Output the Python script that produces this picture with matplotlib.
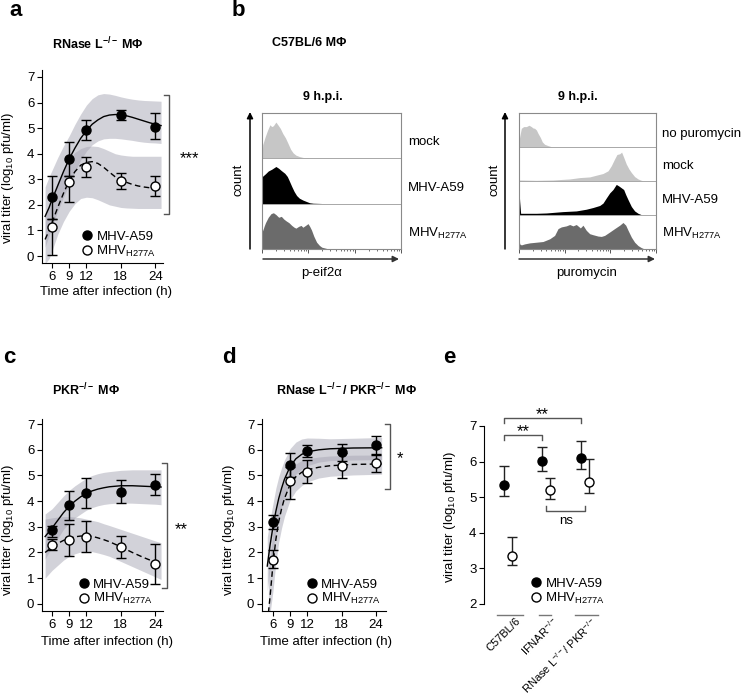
import numpy as np
import matplotlib
matplotlib.use('AGG')
import matplotlib.pyplot as plt
from matplotlib.patches import FancyArrowPatch

plt.rcParams['font.family'] = ['Liberation Sans', 'DejaVu Sans']
plt.rcParams['mathtext.fontset'] = 'custom'
plt.rcParams['mathtext.rm'] = 'Liberation Sans'
plt.rcParams['mathtext.it'] = 'Liberation Sans:italic'
plt.rcParams['mathtext.bf'] = 'Liberation Sans:bold'
plt.rcParams['font.size'] = 9.5
plt.rcParams['axes.linewidth'] = 0.8

# ---- data -------------------------------------------------------------
hours = [6, 9, 12, 18, 24]
lbl_wt = 'MHV-A59'
lbl_mut = r'MHV$_{\mathregular{H277A}}$'

# panel a: RNase L-/- macrophages
a_wt = [2.29, 3.79, 4.93, 5.52, 5.06]
a_wt_lo = [1.45, 3.14, 4.52, 5.32, 4.56]
a_wt_hi = [3.14, 4.47, 5.32, 5.71, 5.60]
a_mut = [1.12, 2.91, 3.49, 2.93, 2.74]
a_mut_lo = [0.04, 2.13, 3.10, 2.61, 2.36]
a_mut_hi = [1.45, 3.14, 3.86, 3.26, 3.14]
a_fit_t = [4.8, 5.5, 6, 7, 8, 9, 10, 11, 12, 13, 14, 15, 16, 17, 18, 19, 20, 21, 22, 23, 24, 25]
a_fit_wt = [1.55, 1.9, 2.2, 2.75, 3.3, 3.8, 4.22, 4.6, 4.9, 5.15, 5.32, 5.45, 5.51, 5.53, 5.52, 5.48,
            5.42, 5.35, 5.28, 5.21, 5.15, 5.1]
a_band_wt_hi = [2.7, 3.1, 3.35, 3.85, 4.3, 4.7, 5.15, 5.55, 5.9, 6.15, 6.3, 6.35, 6.33, 6.28, 6.22, 6.17,
                6.13, 6.1, 6.08, 6.07, 6.06, 6.05]
a_band_wt_lo = [0.35, 0.8, 1.15, 1.75, 2.3, 2.8, 3.3, 3.75, 4.1, 4.35, 4.5, 4.58, 4.6, 4.6, 4.58, 4.55,
                4.52, 4.48, 4.45, 4.43, 4.42, 4.4]
a_fit_mut = [0.65, 1.0, 1.3, 1.9, 2.45, 2.95, 3.3, 3.55, 3.66, 3.69, 3.62, 3.47, 3.28, 3.1, 2.97, 2.88,
             2.8, 2.74, 2.7, 2.67, 2.65, 2.63]
a_band_mut_hi = [1.6, 2.0, 2.35, 2.9, 3.4, 3.8, 4.05, 4.2, 4.28, 4.3, 4.28, 4.2, 4.1, 4.0, 3.95, 3.92,
                 3.9, 3.9, 3.9, 3.9, 3.9, 3.9]
a_band_mut_lo = [-0.3, -0.1, 0.2, 0.85, 1.35, 1.75, 2.05, 2.25, 2.3, 2.28, 2.2, 2.1, 2.0, 1.95, 1.9,
                 1.88, 1.87, 1.86, 1.86, 1.86, 1.86, 1.86]

# panel c: PKR-/- macrophages
c_wt = [2.86, 3.86, 4.33, 4.36, 4.64]
c_wt_lo = [2.60, 3.28, 3.72, 3.93, 4.25]
c_wt_hi = [3.02, 4.38, 4.92, 4.81, 5.06]
c_mut = [2.30, 2.47, 2.60, 2.22, 1.54]
c_mut_lo = [2.08, 1.87, 2.00, 1.80, 0.76]
c_mut_hi = [2.52, 3.12, 3.23, 2.63, 2.33]
c_fit_t = [4.8, 6, 7, 8, 9, 10, 11, 12, 13, 14, 15, 16, 18, 20, 22, 24, 25]
c_fit_wt = [2.62, 2.95, 3.25, 3.55, 3.8, 4.0, 4.17, 4.3, 4.4, 4.47, 4.52, 4.56, 4.6, 4.6, 4.58, 4.56, 4.55]
c_band_wt_hi = [3.5, 3.7, 3.95, 4.2, 4.42, 4.6, 4.75, 4.9, 5.0, 5.07, 5.12, 5.15, 5.2, 5.22, 5.22, 5.22, 5.22]
c_band_wt_lo = [1.75, 2.2, 2.55, 2.9, 3.15, 3.35, 3.5, 3.65, 3.75, 3.82, 3.87, 3.9, 3.93, 3.92, 3.9, 3.88, 3.86]
c_fit_mut = [2.0, 2.2, 2.35, 2.47, 2.55, 2.61, 2.64, 2.65, 2.63, 2.57, 2.5, 2.42, 2.22, 2.0, 1.8, 1.62, 1.55]
c_band_mut_hi = [3.3, 3.35, 3.38, 3.4, 3.4, 3.38, 3.35, 3.3, 3.25, 3.2, 3.12, 3.05, 2.9, 2.75, 2.6, 2.45, 2.38]
c_band_mut_lo = [1.0, 1.3, 1.5, 1.7, 1.85, 1.95, 2.02, 2.05, 2.03, 1.98, 1.92, 1.85, 1.65, 1.45, 1.25, 1.05, 0.95]

# panel d: RNase L-/- / PKR-/- macrophages
d_wt = [3.20, 5.40, 5.95, 5.90, 6.19]
d_wt_lo = [2.91, 4.94, 5.73, 5.56, 5.79]
d_wt_hi = [3.46, 5.89, 6.19, 6.22, 6.54]
d_mut = [1.71, 4.77, 5.14, 5.38, 5.47]
d_mut_lo = [1.38, 4.09, 4.70, 4.90, 5.14]
d_mut_hi = [2.08, 5.33, 5.60, 5.89, 5.83]
d_fit_t = [5.0, 5.5, 6, 6.5, 7, 7.5, 8, 9, 10, 11, 12, 14, 16, 20, 25]
d_fit_wt = [1.47, 2.3, 3.0, 3.6, 4.1, 4.5, 4.85, 5.35, 5.65, 5.82, 5.92, 6.0, 6.04, 6.07, 6.08]
d_band_wt_hi = [2.6, 3.3, 3.9, 4.5, 4.95, 5.3, 5.6, 6.05, 6.3, 6.42, 6.46, 6.45, 6.43, 6.45, 6.48]
d_band_wt_lo = [0.5, 1.4, 2.1, 2.75, 3.3, 3.75, 4.1, 4.7, 5.05, 5.25, 5.38, 5.52, 5.58, 5.6, 5.62]
d_fit_t2 = [5.2, 5.5, 6, 6.5, 7, 7.5, 8, 9, 10, 11, 12, 14, 16, 20, 25]
d_fit_mut = [-0.35, 0.3, 1.55, 2.5, 3.2, 3.7, 4.1, 4.65, 4.95, 5.12, 5.22, 5.32, 5.38, 5.43, 5.45]
d_band_mut_hi = [1.2, 1.8, 2.8, 3.55, 4.1, 4.5, 4.8, 5.2, 5.45, 5.58, 5.65, 5.72, 5.76, 5.79, 5.8]
d_band_mut_lo = [-0.35, -0.35, 0.5, 1.6, 2.4, 2.95, 3.4, 4.05, 4.4, 4.6, 4.75, 4.9, 4.97, 5.02, 5.05]

# panel e: titer at one time point per genotype
e_groups = ['C57BL/6', r'IFNAR$^{\mathregular{-/-}}$',
            r'RNase L$^{\mathregular{-/-}}$/ PKR$^{\mathregular{-/-}}$']
e_wt = [5.34, 6.03, 6.09]
e_wt_lo = [5.04, 5.74, 5.78]
e_wt_hi = [5.88, 6.40, 6.59]
e_mut = [3.35, 5.20, 5.43]
e_mut_lo = [3.10, 4.95, 5.13]
e_mut_hi = [3.89, 5.53, 6.07]

# panel b: flow cytometry histograms (channel 0-100, height as row fraction)
peif_labels = ['mock', 'MHV-A59', r'MHV$_{\mathregular{H277A}}$']
peif_mock_x = [0, 0.5, 2, 4, 5.7, 7, 8.2, 10, 11.4, 13.2, 14.9, 16.9, 18.7, 20.6, 22.4, 24.4, 26.9,
               29.4, 33.1, 36.8]
peif_mock_h = [0, 0.3, 0.45, 0.62, 0.74, 0.7, 0.72, 0.8, 0.74, 0.66, 0.55, 0.45, 0.33, 0.2, 0.12,
               0.07, 0.04, 0.02, 0.01, 0]
peif_wt_x = [0, 0.25, 1, 2.5, 4.5, 7, 9, 10, 12, 13.9, 16.4, 18.2, 19.4, 21.4, 23.1, 24.9, 26.9,
             29.4, 31.8, 34.3, 36.8, 46.8]
peif_wt_h = [0.95, 0.6, 0.62, 0.66, 0.72, 0.76, 0.8, 0.82, 0.78, 0.73, 0.67, 0.6, 0.52, 0.38, 0.27,
             0.18, 0.12, 0.08, 0.05, 0.02, 0.01, 0]
peif_mut_x = [0, 0.5, 1.5, 2.5, 4.5, 6.5, 8.2, 10, 12, 13.9, 15.7, 17.4, 19.4, 21.4, 23.1, 24.4, 26.4,
              28.1, 29.4, 31.3, 33.1, 34.3, 35.6, 37.3, 39.3, 41.3, 43, 45.5, 48]
peif_mut_h = [0.6, 0.4, 0.5, 0.58, 0.7, 0.78, 0.8, 0.76, 0.7, 0.72, 0.66, 0.62, 0.58, 0.52, 0.48,
              0.46, 0.5, 0.52, 0.48, 0.52, 0.56, 0.5, 0.42, 0.28, 0.15, 0.08, 0.04, 0.02, 0]

puro_labels = ['no puromycin', 'mock', 'MHV-A59', r'MHV$_{\mathregular{H277A}}$']
puro_none_x = [0, 0.5, 1.7, 3.4, 5.4, 7.3, 9, 10.2, 11.4, 12.7, 13.9, 15.6, 17, 18.7, 21.2, 23.6, 26]
puro_none_h = [0.15, 0.3, 0.55, 0.6, 0.6, 0.64, 0.6, 0.56, 0.55, 0.5, 0.4, 0.28, 0.15, 0.08, 0.04,
               0.01, 0]
puro_mock_x = [0, 12.7, 24.8, 37, 44.3, 51.6, 56.4, 61.3, 65, 67.4, 69.8, 71.5, 73.5, 74.9, 76.4,
               78.3, 80.3, 82, 84.4, 86.9, 89.3, 91.7]
puro_mock_h = [0.03, 0.02, 0.03, 0.06, 0.1, 0.12, 0.17, 0.22, 0.3, 0.45, 0.65, 0.78, 0.8, 0.85, 0.7,
               0.5, 0.35, 0.25, 0.13, 0.06, 0.02, 0]
puro_wt_x = [0, 0.5, 1.2, 12.7, 20, 32.1, 41.8, 49.1, 54, 58.9, 61.3, 63.7, 66.2, 68.6, 71, 73, 74.7,
             76.4, 77.9, 79.6, 82, 84.4, 86.9, 89.3]
puro_wt_h = [0.75, 0.4, 0.05, 0.05, 0.06, 0.1, 0.12, 0.17, 0.22, 0.28, 0.35, 0.5, 0.65, 0.75, 0.9,
             0.85, 0.8, 0.75, 0.6, 0.45, 0.25, 0.12, 0.05, 0.01]
puro_mut_x = [0, 0.5, 1.7, 4.1, 7.8, 12.7, 17.5, 22.4, 26, 28.5, 30.9, 34.5, 37, 39.4, 41.8, 44.8,
              46.7, 49.1, 51.6, 54, 57.7, 60.1, 62.5, 66.2, 69.8, 73.5, 75.9, 77.9, 79.6, 82, 84.4,
              86.9, 89.3, 91.7]
puro_mut_h = [0.35, 0.15, 0.12, 0.15, 0.18, 0.2, 0.22, 0.3, 0.4, 0.6, 0.65, 0.68, 0.72, 0.68, 0.72,
              0.62, 0.7, 0.55, 0.45, 0.42, 0.38, 0.37, 0.4, 0.5, 0.6, 0.7, 0.78, 0.7, 0.55, 0.35, 0.2,
              0.1, 0.04, 0]

LIGHT = '#c6c6c6'
DARK = '#6b6b6b'
BAND = '#a7a6b4'

# ---- layout helpers (pixel coordinates, origin top-left) ---------------
W, H = 741, 694
fig = plt.figure(figsize=(W / 100, H / 100), dpi=100)


def box(l, t, r, b):
    return [l / W, 1 - b / H, (r - l) / W, (b - t) / H]


def ftext(x, y, s, **kw):
    kw.setdefault('ha', 'center')
    kw.setdefault('va', 'center')
    fig.text(x / W, 1 - y / H, s, **kw)


def arrow(x0, y0, x1, y1, color='k'):
    fig.add_artist(FancyArrowPatch((x0 / W, 1 - y0 / H), (x1 / W, 1 - y1 / H),
                                   transform=fig.transFigure, arrowstyle='-|>',
                                   mutation_scale=9, lw=1.1, color=color,
                                   shrinkA=0, shrinkB=0))


def timecourse(ax, t, m1, lo1, hi1, m2, lo2, hi2, ft1, f1, u1, l1, ft2, f2, u2, l2):
    m1, lo1, hi1 = np.array(m1), np.array(lo1), np.array(hi1)
    m2, lo2, hi2 = np.array(m2), np.array(lo2), np.array(hi2)
    ax.fill_between(ft1, l1, u1, color=BAND, alpha=0.5, lw=0, zorder=1)
    ax.fill_between(ft2, l2, u2, color=BAND, alpha=0.5, lw=0, zorder=1)
    ax.plot(ft1, f1, '-', color='k', lw=1, zorder=2)
    ax.plot(ft2, f2, '--', color='k', lw=1, dashes=(4, 2.5), zorder=2)
    ax.errorbar(t, m1, yerr=[m1 - lo1, hi1 - m1], fmt='none', ecolor='k',
                elinewidth=1, capsize=3.5, capthick=1, zorder=3)
    ax.errorbar(t, m2, yerr=[m2 - lo2, hi2 - m2], fmt='none', ecolor='k',
                elinewidth=1, capsize=3.5, capthick=1, zorder=3)
    h1, = ax.plot(t, m1, 'o', ms=6.5, mfc='k', mec='k', mew=1, zorder=4, label=lbl_wt)
    h2, = ax.plot(t, m2, 'o', ms=6.5, mfc='w', mec='k', mew=1, zorder=4, label=lbl_mut)
    for s in ['top', 'right']:
        ax.spines[s].set_visible(False)
    ax.set_xticks(hours)
    ax.set_yticks(range(8))
    ax.tick_params(length=3.5, width=0.8, pad=2, labelsize=9.5)
    ax.set_xlabel('Time after infection (h)', fontsize=9.5)
    ax.set_ylabel(r'viral titer (log$_{\mathregular{10}}$ pfu/ml)', fontsize=9.5)
    return h1, h2


def legend(ax, handles, x, y):
    ax.legend(handles=handles, loc='lower left', bbox_to_anchor=(x, y), frameon=False,
              borderpad=0, borderaxespad=0, handlelength=0.8, handletextpad=0.3,
              labelspacing=0.05, fontsize=9.5)


def bracket(ax, x, y0, y1, tick):
    ax.plot([x - tick, x, x, x - tick], [y0, y0, y1, y1], color='#555555', lw=1, clip_on=False)


# ---- panel a ------------------------------------------------------------
ax_a = fig.add_axes(box(42, 70, 163, 263))
hs = timecourse(ax_a, hours, a_wt, a_wt_lo, a_wt_hi, a_mut, a_mut_lo, a_mut_hi,
                a_fit_t, a_fit_wt, a_band_wt_hi, a_band_wt_lo,
                a_fit_t, a_fit_mut, a_band_mut_hi, a_band_mut_lo)
ax_a.set_xlim(4.26, 25.34)
ax_a.set_ylim(-0.27, 7.27)
ax_a.yaxis.set_label_coords(-0.215, 0.44)
ax_a.xaxis.set_label_coords(0.53, -0.12)
legend(ax_a, hs, 0.33, 0.022)
bracket(ax_a, 26.4, 6.3, 1.63, 0.87)
ax_a.text(30.0, 3.8, '***', fontsize=12, ha='center', va='center')

# ---- panel c ------------------------------------------------------------
ax_c = fig.add_axes(box(42, 419, 163, 611))
hs = timecourse(ax_c, hours, c_wt, c_wt_lo, c_wt_hi, c_mut, c_mut_lo, c_mut_hi,
                c_fit_t, c_fit_wt, c_band_wt_hi, c_band_wt_lo,
                c_fit_t, c_fit_mut, c_band_mut_hi, c_band_mut_lo)
ax_c.set_xlim(4.26, 25.34)
ax_c.set_ylim(-0.28, 7.2)
ax_c.yaxis.set_label_coords(-0.215, 0.42)
ax_c.xaxis.set_label_coords(0.537, -0.13)
legend(ax_c, hs, 0.30, 0.024)
bracket(ax_c, 26.05, 5.5, 0.62, 0.87)
ax_c.text(28.5, 2.9, '**', fontsize=12, ha='center', va='center')

# ---- panel d ------------------------------------------------------------
ax_d = fig.add_axes(box(262, 419, 386, 611))
hs = timecourse(ax_d, hours, d_wt, d_wt_lo, d_wt_hi, d_mut, d_mut_lo, d_mut_hi,
                d_fit_t, d_fit_wt, d_band_wt_hi, d_band_wt_lo,
                d_fit_t2, d_fit_mut, d_band_mut_hi, d_band_mut_lo)
ax_d.set_xlim(4.08, 25.76)
ax_d.set_ylim(-0.28, 7.2)
ax_d.yaxis.set_label_coords(-0.2, 0.42)
ax_d.xaxis.set_label_coords(0.52, -0.13)
legend(ax_d, hs, 0.36, 0.024)
bracket(ax_d, 26.46, 7.0, 4.48, 0.87)
ax_d.text(28.2, 5.65, '*', fontsize=12, ha='center', va='center')

# ---- panel e ------------------------------------------------------------
ax_e = fig.add_axes(box(484, 426, 600, 604))
xe = np.arange(len(e_groups))
off = 0.105
ewt, ewl, ewh = np.array(e_wt), np.array(e_wt_lo), np.array(e_wt_hi)
emt, eml, emh = np.array(e_mut), np.array(e_mut_lo), np.array(e_mut_hi)
ax_e.errorbar(xe - off, ewt, yerr=[ewt - ewl, ewh - ewt], fmt='none', ecolor='#222222',
              elinewidth=1, capsize=3.5, capthick=1, zorder=2)
ax_e.errorbar(xe + off, emt, yerr=[emt - eml, emh - emt], fmt='none', ecolor='#222222',
              elinewidth=1, capsize=3.5, capthick=1, zorder=2)
h1, = ax_e.plot(xe - off, ewt, 'o', ms=6.5, mfc='k', mec='k', zorder=3, label=lbl_wt)
h2, = ax_e.plot(xe + off, emt, 'o', ms=6.5, mfc='w', mec='k', mew=1, zorder=3, label=lbl_mut)
ax_e.set_xlim(-0.62, 2.39)
ax_e.set_ylim(2, 7)
ax_e.set_yticks(range(2, 8))
for s in ['top', 'right', 'bottom']:
    ax_e.spines[s].set_visible(False)
ax_e.set_xticks([])
ax_e.tick_params(length=3.5, width=0.8, pad=2, labelsize=9.5)
ax_e.set_ylabel(r'viral titer (log$_{\mathregular{10}}$ pfu/ml)', fontsize=9.5)
ax_e.yaxis.set_label_coords(-0.22, 0.49)
legend(ax_e, [h1, h2], 0.405, -0.01)
# group underlines and rotated labels
under = [(-0.29, 0.38), (0.80, 1.13), (1.74, 2.34)]
for i, (g, (u0, u1)) in enumerate(zip(e_groups, under)):
    ax_e.plot([u0, u1], [1.69, 1.69], color='#777777', lw=1, clip_on=False)
    ax_e.text(i + 0.28, 1.56, g, rotation=45, ha='right', va='center',
              rotation_mode='anchor', fontsize=8)
# significance brackets
ax_e.plot([-off, -off, 2 - off, 2 - off], [7.08, 7.22, 7.22, 7.08], color='#555555', lw=1, clip_on=False)
ax_e.text(1 - off, 7.33, '**', ha='center', va='center', fontsize=12)
ax_e.plot([-off, -off, 1 - off, 1 - off], [6.6, 6.75, 6.75, 6.6], color='#555555', lw=1, clip_on=False)
ax_e.text(0.5 - off, 6.85, '**', ha='center', va='center', fontsize=12)
ax_e.plot([1.0, 1.0, 2.0, 2.0], [4.76, 4.62, 4.62, 4.76], color='#555555', lw=1, clip_on=False)
ax_e.text(1.5, 4.33, 'ns', ha='center', va='center', fontsize=9.5)


# ---- panel b: histograms -------------------------------------------------
def hist_panel(ax, rows, colors):
    n = len(rows)
    for i, ((x, h), c) in enumerate(zip(rows, colors)):
        base = n - 1 - i
        ax.fill_between(x, base, base + np.array(h), color=c, lw=0, zorder=1)
    for k in range(1, n):
        ax.axhline(k, color='#a8a8a8', lw=0.7, zorder=2)
    ax.set_xlim(0, 100)
    ax.set_ylim(0, n)
    major = [d / 3 * 100 for d in range(4)]
    minor = [(d + np.log10(k)) / 3 * 100 for d in range(3) for k in range(2, 10)]
    ax.set_xticks(major)
    ax.set_xticks(minor, minor=True)
    ax.set_yticks([])
    ax.tick_params(axis='x', which='major', length=3, width=0.7, color='#555555',
                   labelbottom=False)
    ax.tick_params(axis='x', which='minor', length=1.5, width=0.6, color='#555555')
    for s in ax.spines.values():
        s.set_color('#8a8a8a')
        s.set_linewidth(0.8)


ax_b1 = fig.add_axes(box(262, 113, 401, 249))
hist_panel(ax_b1, [(peif_mock_x, peif_mock_h), (peif_wt_x, peif_wt_h), (peif_mut_x, peif_mut_h)],
           [LIGHT, 'k', DARK])
for lab, y in zip(peif_labels, [142, 188, 233]):
    ftext(408, y, lab, ha='left', fontsize=9.5)

ax_b2 = fig.add_axes(box(519, 113, 656, 249))
hist_panel(ax_b2, [(puro_none_x, puro_none_h), (puro_mock_x, puro_mock_h),
                   (puro_wt_x, puro_wt_h), (puro_mut_x, puro_mut_h)],
           [LIGHT, LIGHT, 'k', DARK])
for lab, y in zip(puro_labels, [134, 166, 200, 233]):
    ftext(662, y, lab, ha='left', fontsize=9.5)

arrow(250, 249, 250, 112)
arrow(505, 249, 505, 112)
arrow(263, 259, 399, 259, color='#333333')
arrow(519, 259, 655, 259, color='#333333')
ftext(239, 180, 'count', rotation=90, fontsize=9.5)
ftext(494, 180, 'count', rotation=90, fontsize=9.5)
ftext(322, 273, 'p-eif2α', fontsize=9.5)
ftext(587, 273, 'puromycin', fontsize=9.5)

# ---- titles and panel letters -------------------------------------------
for s, x, y in [('a', 16, 11), ('b', 238, 10), ('c', 9, 358), ('d', 229, 358), ('e', 449, 358)]:
    ftext(x, y, s, fontsize=16, fontweight='bold')
ftext(98, 44, r'RNase L$^{\mathregular{-/-}}$ MΦ', fontsize=9, fontweight='bold')
ftext(309, 43, 'C57BL/6 MΦ', fontsize=9, fontweight='bold')
ftext(323, 97, '9 h.p.i.', fontsize=9, fontweight='bold')
ftext(578, 97, '9 h.p.i.', fontsize=9, fontweight='bold')
ftext(86, 390, r'PKR$^{\mathregular{-/-}}$ MΦ', fontsize=9, fontweight='bold')
ftext(347, 390, r'RNase L$^{\mathregular{-/-}}$/ PKR$^{\mathregular{-/-}}$ MΦ', fontsize=9,
      fontweight='bold')

fig.savefig('out.png', dpi=100)
plt.close(fig)
